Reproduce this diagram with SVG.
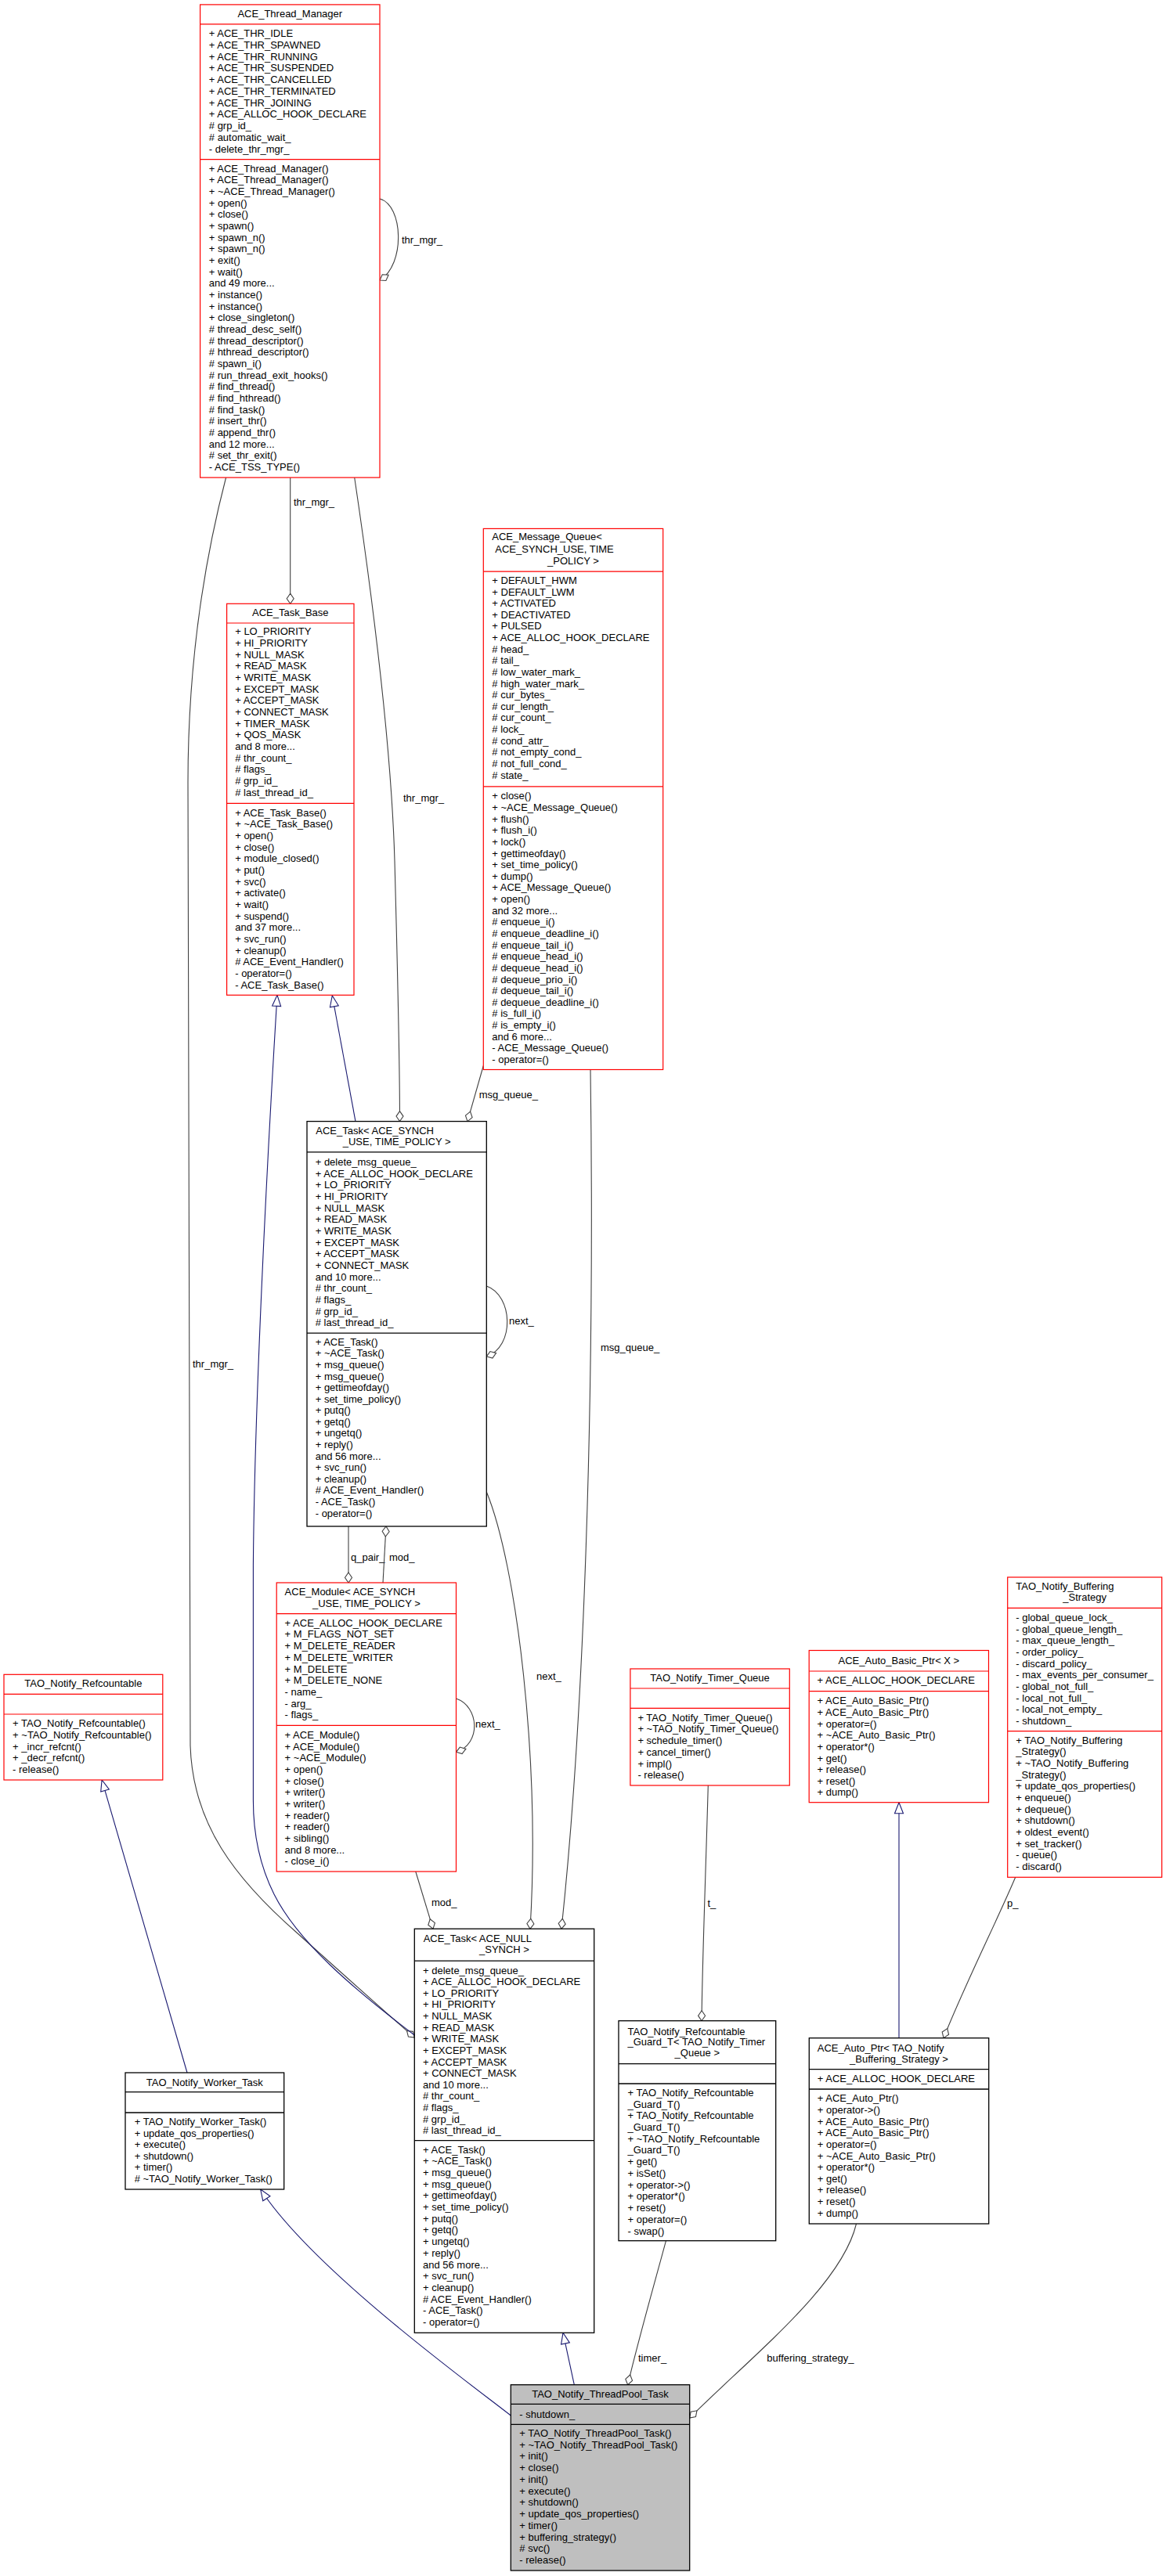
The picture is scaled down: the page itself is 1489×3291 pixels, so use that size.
<svg xmlns="http://www.w3.org/2000/svg" width="1489" height="3291" viewBox="0 0 1489 3291">
<style>
.br{fill:#fff;stroke:#ff0000;stroke-width:1.2}
.lr{stroke:#ff0000;stroke-width:1.2}
.bk{fill:#fff;stroke:#000;stroke-width:1.3}
.lk{stroke:#000;stroke-width:1.3}
.sel{fill:#bfbfbf;stroke:#000;stroke-width:1.3}
.t{font-family:"Liberation Sans",Arial,Helvetica,sans-serif;font-size:13px;fill:#000}
.c{text-anchor:middle}
.e{fill:none;stroke:#404040;stroke-width:1.1}
.i{fill:none;stroke:#191970;stroke-width:1.1}
</style>
<defs>
<marker id="dia" viewBox="-1 -6 15 12" markerWidth="15" markerHeight="12" refX="13" refY="0" orient="auto" markerUnits="userSpaceOnUse">
<path d="M0,0 L6.5,-4.5 L13,0 L6.5,4.5 Z" fill="#fff" stroke="#404040" stroke-width="1.1"/>
</marker>
<marker id="tri" viewBox="-1 -7 16 14" markerWidth="16" markerHeight="14" refX="14" refY="0" orient="auto" markerUnits="userSpaceOnUse">
<path d="M0,-5.5 L14,0 L0,5.5 Z" fill="#fff" stroke="#191970" stroke-width="1.1"/>
</marker>
</defs>

<g id="connectors">
<path class="e" d="M485,254 C515,262 518,338 485,358" marker-end="url(#dia)"/>
<text class="t" x="513" y="311">thr_mgr_</text>
<path class="e" d="M370.7,610 L370.7,771.3" marker-end="url(#dia)"/>
<text class="t" x="375" y="645.7">thr_mgr_</text>
<path class="e" d="M452.7,610 C478,780 500,960 504,1100 C508,1250 510.5,1350 510.5,1432.6" marker-end="url(#dia)"/>
<text class="t" x="515" y="1024.3">thr_mgr_</text>
<path class="e" d="M288.6,610 C260,720 240,850 240,1000 L243,2230 C246,2330 300,2400 380,2470 C430,2515 480,2560 529.3,2603" marker-end="url(#dia)"/>
<text class="t" x="246" y="1747">thr_mgr_</text>
<path class="i" d="M454,1432.6 L424.3,1272" marker-end="url(#tri)"/>
<path class="i" d="M529.3,2600 C450,2540 380,2480 350,2420 C330,2380 323.4,2340 323.4,2300 L323.4,2000 C325,1800 340,1500 354,1271.3" marker-end="url(#tri)"/>
<path class="e" d="M617.3,1361.5 L597,1432.6" marker-end="url(#dia)"/>
<text class="t" x="611.7" y="1403.3">msg_queue_</text>
<path class="e" d="M754,1366.5 C760,1800 745,2200 717,2464.2" marker-end="url(#dia)"/>
<text class="t" x="767" y="1726">msg_queue_</text>
<path class="e" d="M621.3,1643 C655,1655 658,1720 621.3,1733" marker-end="url(#dia)"/>
<text class="t" x="650" y="1692">next_</text>
<path class="e" d="M445,1950 L445,2022" marker-end="url(#dia)"/>
<text class="t" x="448" y="1994">q_pair_</text>
<path class="e" d="M489,2022 L493,1950" marker-end="url(#dia)"/>
<text class="t" x="497" y="1994">mod_</text>
<path class="e" d="M621.3,1906 C660,2000 690,2250 677,2464.2" marker-end="url(#dia)"/>
<text class="t" x="685" y="2146">next_</text>
<path class="e" d="M582.5,2170 C612,2180 615,2228 582.5,2238.3" marker-end="url(#dia)"/>
<text class="t" x="607" y="2207">next_</text>
<path class="e" d="M530.8,2391 L553,2464.2" marker-end="url(#dia)"/>
<text class="t" x="551" y="2435">mod_</text>
<path class="e" d="M904.3,2281 C901,2400 897,2500 896,2581.7" marker-end="url(#dia)"/>
<text class="t" x="903.4" y="2435.5">t_</text>
<path class="i" d="M1148,2603.7 L1148,2302.7" marker-end="url(#tri)"/>
<path class="e" d="M1296.7,2398.3 C1275,2450 1230,2540 1205,2603.7" marker-end="url(#dia)"/>
<text class="t" x="1286" y="2436">p_</text>
<path class="i" d="M239,2648 L130.1,2274" marker-end="url(#tri)"/>
<path class="i" d="M652.3,3086 C600,3045 400,2900 332.7,2797" marker-end="url(#tri)"/>
<path class="i" d="M733.3,3046.7 L719,2980.3" marker-end="url(#tri)"/>
<path class="e" d="M850.5,2862.7 C835,2920 815,2990 801.7,3046.7" marker-end="url(#dia)"/>
<text class="t" x="815" y="3017">timer_</text>
<path class="e" d="M1093.5,2841 C1075,2920 960,3010 880.7,3089" marker-end="url(#dia)"/>
<text class="t" x="979.3" y="3017">buffering_strategy_</text>
</g>

<g id="n-ace-thread-manager">
<rect class="br" x="255.6" y="5.9" width="229.4" height="604.2"/>
<line class="lr" x1="255.6" y1="30.8" x2="485" y2="30.8"/>
<line class="lr" x1="255.6" y1="203.6" x2="485" y2="203.6"/>
<text class="t c" x="370.3" y="22.3">ACE_Thread_Manager</text>
<text class="t" y="47"><tspan x="266.8">+ ACE_THR_IDLE</tspan><tspan x="266.8" dy="14.75">+ ACE_THR_SPAWNED</tspan><tspan x="266.8" dy="14.75">+ ACE_THR_RUNNING</tspan><tspan x="266.8" dy="14.75">+ ACE_THR_SUSPENDED</tspan><tspan x="266.8" dy="14.75">+ ACE_THR_CANCELLED</tspan><tspan x="266.8" dy="14.75">+ ACE_THR_TERMINATED</tspan><tspan x="266.8" dy="14.75">+ ACE_THR_JOINING</tspan><tspan x="266.8" dy="14.75">+ ACE_ALLOC_HOOK_DECLARE</tspan><tspan x="266.8" dy="14.75"># grp_id_</tspan><tspan x="266.8" dy="14.75"># automatic_wait_</tspan><tspan x="266.8" dy="14.75">- delete_thr_mgr_</tspan></text>
<text class="t" y="219.5"><tspan x="266.8">+ ACE_Thread_Manager()</tspan><tspan x="266.8" dy="14.67">+ ACE_Thread_Manager()</tspan><tspan x="266.8" dy="14.67">+ ~ACE_Thread_Manager()</tspan><tspan x="266.8" dy="14.67">+ open()</tspan><tspan x="266.8" dy="14.67">+ close()</tspan><tspan x="266.8" dy="14.67">+ spawn()</tspan><tspan x="266.8" dy="14.67">+ spawn_n()</tspan><tspan x="266.8" dy="14.67">+ spawn_n()</tspan><tspan x="266.8" dy="14.67">+ exit()</tspan><tspan x="266.8" dy="14.67">+ wait()</tspan><tspan x="266.8" dy="14.67">and 49 more...</tspan><tspan x="266.8" dy="14.67">+ instance()</tspan><tspan x="266.8" dy="14.67">+ instance()</tspan><tspan x="266.8" dy="14.67">+ close_singleton()</tspan><tspan x="266.8" dy="14.67"># thread_desc_self()</tspan><tspan x="266.8" dy="14.67"># thread_descriptor()</tspan><tspan x="266.8" dy="14.67"># hthread_descriptor()</tspan><tspan x="266.8" dy="14.67"># spawn_i()</tspan><tspan x="266.8" dy="14.67"># run_thread_exit_hooks()</tspan><tspan x="266.8" dy="14.67"># find_thread()</tspan><tspan x="266.8" dy="14.67"># find_hthread()</tspan><tspan x="266.8" dy="14.67"># find_task()</tspan><tspan x="266.8" dy="14.67"># insert_thr()</tspan><tspan x="266.8" dy="14.67"># append_thr()</tspan><tspan x="266.8" dy="14.67">and 12 more...</tspan><tspan x="266.8" dy="14.67"># set_thr_exit()</tspan><tspan x="266.8" dy="14.67">- ACE_TSS_TYPE()</tspan></text>
</g>

<g id="n-ace-task-base">
<rect class="br" x="289.6" y="771.3" width="162.4" height="500"/>
<line class="lr" x1="289.6" y1="796" x2="452" y2="796"/>
<line class="lr" x1="289.6" y1="1026.3" x2="452" y2="1026.3"/>
<text class="t c" x="370.8" y="786.6">ACE_Task_Base</text>
<text class="t" y="811.4"><tspan x="300.2">+ LO_PRIORITY</tspan><tspan x="300.2" dy="14.65">+ HI_PRIORITY</tspan><tspan x="300.2" dy="14.65">+ NULL_MASK</tspan><tspan x="300.2" dy="14.65">+ READ_MASK</tspan><tspan x="300.2" dy="14.65">+ WRITE_MASK</tspan><tspan x="300.2" dy="14.65">+ EXCEPT_MASK</tspan><tspan x="300.2" dy="14.65">+ ACCEPT_MASK</tspan><tspan x="300.2" dy="14.65">+ CONNECT_MASK</tspan><tspan x="300.2" dy="14.65">+ TIMER_MASK</tspan><tspan x="300.2" dy="14.65">+ QOS_MASK</tspan><tspan x="300.2" dy="14.65">and 8 more...</tspan><tspan x="300.2" dy="14.65"># thr_count_</tspan><tspan x="300.2" dy="14.65"># flags_</tspan><tspan x="300.2" dy="14.65"># grp_id_</tspan><tspan x="300.2" dy="14.65"># last_thread_id_</tspan></text>
<text class="t" y="1042.5"><tspan x="300.2">+ ACE_Task_Base()</tspan><tspan x="300.2" dy="14.69">+ ~ACE_Task_Base()</tspan><tspan x="300.2" dy="14.69">+ open()</tspan><tspan x="300.2" dy="14.69">+ close()</tspan><tspan x="300.2" dy="14.69">+ module_closed()</tspan><tspan x="300.2" dy="14.69">+ put()</tspan><tspan x="300.2" dy="14.69">+ svc()</tspan><tspan x="300.2" dy="14.69">+ activate()</tspan><tspan x="300.2" dy="14.69">+ wait()</tspan><tspan x="300.2" dy="14.69">+ suspend()</tspan><tspan x="300.2" dy="14.69">and 37 more...</tspan><tspan x="300.2" dy="14.69">+ svc_run()</tspan><tspan x="300.2" dy="14.69">+ cleanup()</tspan><tspan x="300.2" dy="14.69"># ACE_Event_Handler()</tspan><tspan x="300.2" dy="14.69">- operator=()</tspan><tspan x="300.2" dy="14.69">- ACE_Task_Base()</tspan></text>
</g>

<g id="n-ace-message-queue">
<rect class="br" x="617.3" y="675.4" width="229.4" height="691.1"/>
<line class="lr" x1="617.3" y1="730.1" x2="846.7" y2="730.1"/>
<line class="lr" x1="617.3" y1="1004.8" x2="846.7" y2="1004.8"/>
<text class="t" x="628.3" y="690.4">ACE_Message_Queue&lt;</text>
<text class="t" x="632.3" y="705.8">ACE_SYNCH_USE, TIME</text>
<text class="t c" x="732" y="720.7">_POLICY &gt;</text>
<text class="t" y="746"><tspan x="628.3">+ DEFAULT_HWM</tspan><tspan x="628.3" dy="14.62">+ DEFAULT_LWM</tspan><tspan x="628.3" dy="14.62">+ ACTIVATED</tspan><tspan x="628.3" dy="14.62">+ DEACTIVATED</tspan><tspan x="628.3" dy="14.62">+ PULSED</tspan><tspan x="628.3" dy="14.62">+ ACE_ALLOC_HOOK_DECLARE</tspan><tspan x="628.3" dy="14.62"># head_</tspan><tspan x="628.3" dy="14.62"># tail_</tspan><tspan x="628.3" dy="14.62"># low_water_mark_</tspan><tspan x="628.3" dy="14.62"># high_water_mark_</tspan><tspan x="628.3" dy="14.62"># cur_bytes_</tspan><tspan x="628.3" dy="14.62"># cur_length_</tspan><tspan x="628.3" dy="14.62"># cur_count_</tspan><tspan x="628.3" dy="14.62"># lock_</tspan><tspan x="628.3" dy="14.62"># cond_attr_</tspan><tspan x="628.3" dy="14.62"># not_empty_cond_</tspan><tspan x="628.3" dy="14.62"># not_full_cond_</tspan><tspan x="628.3" dy="14.62"># state_</tspan></text>
<text class="t" y="1021.3"><tspan x="628.3">+ close()</tspan><tspan x="628.3" dy="14.64">+ ~ACE_Message_Queue()</tspan><tspan x="628.3" dy="14.64">+ flush()</tspan><tspan x="628.3" dy="14.64">+ flush_i()</tspan><tspan x="628.3" dy="14.64">+ lock()</tspan><tspan x="628.3" dy="14.64">+ gettimeofday()</tspan><tspan x="628.3" dy="14.64">+ set_time_policy()</tspan><tspan x="628.3" dy="14.64">+ dump()</tspan><tspan x="628.3" dy="14.64">+ ACE_Message_Queue()</tspan><tspan x="628.3" dy="14.64">+ open()</tspan><tspan x="628.3" dy="14.64">and 32 more...</tspan><tspan x="628.3" dy="14.64"># enqueue_i()</tspan><tspan x="628.3" dy="14.64"># enqueue_deadline_i()</tspan><tspan x="628.3" dy="14.64"># enqueue_tail_i()</tspan><tspan x="628.3" dy="14.64"># enqueue_head_i()</tspan><tspan x="628.3" dy="14.64"># dequeue_head_i()</tspan><tspan x="628.3" dy="14.64"># dequeue_prio_i()</tspan><tspan x="628.3" dy="14.64"># dequeue_tail_i()</tspan><tspan x="628.3" dy="14.64"># dequeue_deadline_i()</tspan><tspan x="628.3" dy="14.64"># is_full_i()</tspan><tspan x="628.3" dy="14.64"># is_empty_i()</tspan><tspan x="628.3" dy="14.64">and 6 more...</tspan><tspan x="628.3" dy="14.64">- ACE_Message_Queue()</tspan><tspan x="628.3" dy="14.64">- operator=()</tspan></text>
</g>

<g id="n-ace-task-synch">
<rect class="bk" x="392" y="1432.6" width="229.3" height="517.4"/>
<line class="lk" x1="392" y1="1471.9" x2="621.3" y2="1471.9"/>
<line class="lk" x1="392" y1="1703.1" x2="621.3" y2="1703.1"/>
<text class="t" x="403.3" y="1448.7">ACE_Task&lt; ACE_SYNCH</text>
<text class="t c" x="506.7" y="1462.5">_USE, TIME_POLICY &gt;</text>
<text class="t" y="1489"><tspan x="402.7">+ delete_msg_queue_</tspan><tspan x="402.7" dy="14.66">+ ACE_ALLOC_HOOK_DECLARE</tspan><tspan x="402.7" dy="14.66">+ LO_PRIORITY</tspan><tspan x="402.7" dy="14.66">+ HI_PRIORITY</tspan><tspan x="402.7" dy="14.66">+ NULL_MASK</tspan><tspan x="402.7" dy="14.66">+ READ_MASK</tspan><tspan x="402.7" dy="14.66">+ WRITE_MASK</tspan><tspan x="402.7" dy="14.66">+ EXCEPT_MASK</tspan><tspan x="402.7" dy="14.66">+ ACCEPT_MASK</tspan><tspan x="402.7" dy="14.66">+ CONNECT_MASK</tspan><tspan x="402.7" dy="14.66">and 10 more...</tspan><tspan x="402.7" dy="14.66"># thr_count_</tspan><tspan x="402.7" dy="14.66"># flags_</tspan><tspan x="402.7" dy="14.66"># grp_id_</tspan><tspan x="402.7" dy="14.66"># last_thread_id_</tspan></text>
<text class="t" y="1718.8"><tspan x="402.7">+ ACE_Task()</tspan><tspan x="402.7" dy="14.58">+ ~ACE_Task()</tspan><tspan x="402.7" dy="14.58">+ msg_queue()</tspan><tspan x="402.7" dy="14.58">+ msg_queue()</tspan><tspan x="402.7" dy="14.58">+ gettimeofday()</tspan><tspan x="402.7" dy="14.58">+ set_time_policy()</tspan><tspan x="402.7" dy="14.58">+ putq()</tspan><tspan x="402.7" dy="14.58">+ getq()</tspan><tspan x="402.7" dy="14.58">+ ungetq()</tspan><tspan x="402.7" dy="14.58">+ reply()</tspan><tspan x="402.7" dy="14.58">and 56 more...</tspan><tspan x="402.7" dy="14.58">+ svc_run()</tspan><tspan x="402.7" dy="14.58">+ cleanup()</tspan><tspan x="402.7" dy="14.58"># ACE_Event_Handler()</tspan><tspan x="402.7" dy="14.58">- ACE_Task()</tspan><tspan x="402.7" dy="14.58">- operator=()</tspan></text>
</g>

<g id="n-ace-module">
<rect class="br" x="353.2" y="2022" width="229.3" height="369"/>
<line class="lr" x1="353.2" y1="2061.7" x2="582.5" y2="2061.7"/>
<line class="lr" x1="353.2" y1="2204.3" x2="582.5" y2="2204.3"/>
<text class="t" x="363.6" y="2037.8">ACE_Module&lt; ACE_SYNCH</text>
<text class="t c" x="467.9" y="2052.8">_USE, TIME_POLICY &gt;</text>
<text class="t" y="2077.8"><tspan x="363.6">+ ACE_ALLOC_HOOK_DECLARE</tspan><tspan x="363.6" dy="14.68">+ M_FLAGS_NOT_SET</tspan><tspan x="363.6" dy="14.68">+ M_DELETE_READER</tspan><tspan x="363.6" dy="14.68">+ M_DELETE_WRITER</tspan><tspan x="363.6" dy="14.68">+ M_DELETE</tspan><tspan x="363.6" dy="14.68">+ M_DELETE_NONE</tspan><tspan x="363.6" dy="14.68">- name_</tspan><tspan x="363.6" dy="14.68">- arg_</tspan><tspan x="363.6" dy="14.68">- flags_</tspan></text>
<text class="t" y="2221.2"><tspan x="363.6">+ ACE_Module()</tspan><tspan x="363.6" dy="14.64">+ ACE_Module()</tspan><tspan x="363.6" dy="14.64">+ ~ACE_Module()</tspan><tspan x="363.6" dy="14.64">+ open()</tspan><tspan x="363.6" dy="14.64">+ close()</tspan><tspan x="363.6" dy="14.64">+ writer()</tspan><tspan x="363.6" dy="14.64">+ writer()</tspan><tspan x="363.6" dy="14.64">+ reader()</tspan><tspan x="363.6" dy="14.64">+ reader()</tspan><tspan x="363.6" dy="14.64">+ sibling()</tspan><tspan x="363.6" dy="14.64">and 8 more...</tspan><tspan x="363.6" dy="14.64">- close_i()</tspan></text>
</g>

<g id="n-tao-notify-refcountable">
<rect class="br" x="5" y="2139.3" width="202.8" height="134.7"/>
<line class="lr" x1="5" y1="2164.3" x2="207.8" y2="2164.3"/>
<line class="lr" x1="5" y1="2190" x2="207.8" y2="2190"/>
<text class="t c" x="106.4" y="2155.2">TAO_Notify_Refcountable</text>
<text class="t" y="2205.8"><tspan x="16.1">+ TAO_Notify_Refcountable()</tspan><tspan x="16.1" dy="14.85">+ ~TAO_Notify_Refcountable()</tspan><tspan x="16.1" dy="14.85">+ _incr_refcnt()</tspan><tspan x="16.1" dy="14.85">+ _decr_refcnt()</tspan><tspan x="16.1" dy="14.85">- release()</tspan></text>
</g>

<g id="n-tao-notify-timer-queue">
<rect class="br" x="804.9" y="2132" width="203.4" height="149"/>
<line class="lr" x1="804.9" y1="2157" x2="1008.3" y2="2157"/>
<line class="lr" x1="804.9" y1="2182.3" x2="1008.3" y2="2182.3"/>
<text class="t c" x="906.6" y="2148.2">TAO_Notify_Timer_Queue</text>
<text class="t" y="2198.8"><tspan x="814.4">+ TAO_Notify_Timer_Queue()</tspan><tspan x="814.4" dy="14.68">+ ~TAO_Notify_Timer_Queue()</tspan><tspan x="814.4" dy="14.68">+ schedule_timer()</tspan><tspan x="814.4" dy="14.68">+ cancel_timer()</tspan><tspan x="814.4" dy="14.68">+ impl()</tspan><tspan x="814.4" dy="14.68">- release()</tspan></text>
</g>

<g id="n-ace-auto-basic-ptr">
<rect class="br" x="1033.2" y="2108.5" width="229.3" height="194.2"/>
<line class="lr" x1="1033.2" y1="2135" x2="1262.5" y2="2135"/>
<line class="lr" x1="1033.2" y1="2160.7" x2="1262.5" y2="2160.7"/>
<text class="t c" x="1147.9" y="2126.2">ACE_Auto_Basic_Ptr&lt; X &gt;</text>
<text class="t" x="1043.6" y="2150.5">+ ACE_ALLOC_HOOK_DECLARE</text>
<text class="t" y="2177.2"><tspan x="1043.6">+ ACE_Auto_Basic_Ptr()</tspan><tspan x="1043.6" dy="14.66">+ ACE_Auto_Basic_Ptr()</tspan><tspan x="1043.6" dy="14.66">+ operator=()</tspan><tspan x="1043.6" dy="14.66">+ ~ACE_Auto_Basic_Ptr()</tspan><tspan x="1043.6" dy="14.66">+ operator*()</tspan><tspan x="1043.6" dy="14.66">+ get()</tspan><tspan x="1043.6" dy="14.66">+ release()</tspan><tspan x="1043.6" dy="14.66">+ reset()</tspan><tspan x="1043.6" dy="14.66">+ dump()</tspan></text>
</g>

<g id="n-tao-notify-buffering-strategy">
<rect class="br" x="1286.7" y="2015" width="197" height="383.3"/>
<line class="lr" x1="1286.7" y1="2054.3" x2="1483.7" y2="2054.3"/>
<line class="lr" x1="1286.7" y1="2211.7" x2="1483.7" y2="2211.7"/>
<text class="t" x="1297.3" y="2031.2">TAO_Notify_Buffering</text>
<text class="t c" x="1385.2" y="2045.2">_Strategy</text>
<text class="t" y="2071.2"><tspan x="1297.3">- global_queue_lock_</tspan><tspan x="1297.3" dy="14.62">- global_queue_length_</tspan><tspan x="1297.3" dy="14.62">- max_queue_length_</tspan><tspan x="1297.3" dy="14.62">- order_policy_</tspan><tspan x="1297.3" dy="14.62">- discard_policy_</tspan><tspan x="1297.3" dy="14.62">- max_events_per_consumer_</tspan><tspan x="1297.3" dy="14.62">- global_not_full_</tspan><tspan x="1297.3" dy="14.62">- local_not_full_</tspan><tspan x="1297.3" dy="14.62">- local_not_empty_</tspan><tspan x="1297.3" dy="14.62">- shutdown_</tspan></text>
<text class="t" y="2227.8"><tspan x="1297.3">+ TAO_Notify_Buffering</tspan><tspan x="1297.3" dy="14.64">_Strategy()</tspan><tspan x="1297.3" dy="14.64">+ ~TAO_Notify_Buffering</tspan><tspan x="1297.3" dy="14.64">_Strategy()</tspan><tspan x="1297.3" dy="14.64">+ update_qos_properties()</tspan><tspan x="1297.3" dy="14.64">+ enqueue()</tspan><tspan x="1297.3" dy="14.64">+ dequeue()</tspan><tspan x="1297.3" dy="14.64">+ shutdown()</tspan><tspan x="1297.3" dy="14.64">+ oldest_event()</tspan><tspan x="1297.3" dy="14.64">+ set_tracker()</tspan><tspan x="1297.3" dy="14.64">- queue()</tspan><tspan x="1297.3" dy="14.64">- discard()</tspan></text>
</g>

<g id="n-ace-task-null-synch">
<rect class="bk" x="529.3" y="2464.2" width="229.4" height="516.1"/>
<line class="lk" x1="529.3" y1="2505.1" x2="758.7" y2="2505.1"/>
<line class="lk" x1="529.3" y1="2734.7" x2="758.7" y2="2734.7"/>
<text class="t" x="540.7" y="2481">ACE_Task&lt; ACE_NULL</text>
<text class="t c" x="644" y="2495">_SYNCH &gt;</text>
<text class="t" y="2521.5"><tspan x="540">+ delete_msg_queue_</tspan><tspan x="540" dy="14.63">+ ACE_ALLOC_HOOK_DECLARE</tspan><tspan x="540" dy="14.63">+ LO_PRIORITY</tspan><tspan x="540" dy="14.63">+ HI_PRIORITY</tspan><tspan x="540" dy="14.63">+ NULL_MASK</tspan><tspan x="540" dy="14.63">+ READ_MASK</tspan><tspan x="540" dy="14.63">+ WRITE_MASK</tspan><tspan x="540" dy="14.63">+ EXCEPT_MASK</tspan><tspan x="540" dy="14.63">+ ACCEPT_MASK</tspan><tspan x="540" dy="14.63">+ CONNECT_MASK</tspan><tspan x="540" dy="14.63">and 10 more...</tspan><tspan x="540" dy="14.63"># thr_count_</tspan><tspan x="540" dy="14.63"># flags_</tspan><tspan x="540" dy="14.63"># grp_id_</tspan><tspan x="540" dy="14.63"># last_thread_id_</tspan></text>
<text class="t" y="2750.6"><tspan x="540">+ ACE_Task()</tspan><tspan x="540" dy="14.69">+ ~ACE_Task()</tspan><tspan x="540" dy="14.69">+ msg_queue()</tspan><tspan x="540" dy="14.69">+ msg_queue()</tspan><tspan x="540" dy="14.69">+ gettimeofday()</tspan><tspan x="540" dy="14.69">+ set_time_policy()</tspan><tspan x="540" dy="14.69">+ putq()</tspan><tspan x="540" dy="14.69">+ getq()</tspan><tspan x="540" dy="14.69">+ ungetq()</tspan><tspan x="540" dy="14.69">+ reply()</tspan><tspan x="540" dy="14.69">and 56 more...</tspan><tspan x="540" dy="14.69">+ svc_run()</tspan><tspan x="540" dy="14.69">+ cleanup()</tspan><tspan x="540" dy="14.69"># ACE_Event_Handler()</tspan><tspan x="540" dy="14.69">- ACE_Task()</tspan><tspan x="540" dy="14.69">- operator=()</tspan></text>
</g>

<g id="n-tao-notify-worker-task">
<rect class="bk" x="160" y="2648" width="202.7" height="149"/>
<line class="lk" x1="160" y1="2672.7" x2="362.7" y2="2672.7"/>
<line class="lk" x1="160" y1="2699" x2="362.7" y2="2699"/>
<text class="t c" x="261.3" y="2664.5">TAO_Notify_Worker_Task</text>
<text class="t" y="2715.2"><tspan x="171.7">+ TAO_Notify_Worker_Task()</tspan><tspan x="171.7" dy="14.52">+ update_qos_properties()</tspan><tspan x="171.7" dy="14.52">+ execute()</tspan><tspan x="171.7" dy="14.52">+ shutdown()</tspan><tspan x="171.7" dy="14.52">+ timer()</tspan><tspan x="171.7" dy="14.52"># ~TAO_Notify_Worker_Task()</tspan></text>
</g>

<g id="n-tao-notify-refcountable-guard">
<rect class="bk" x="790" y="2581.7" width="200.7" height="281"/>
<line class="lk" x1="790" y1="2636.7" x2="990.7" y2="2636.7"/>
<line class="lk" x1="790" y1="2662" x2="990.7" y2="2662"/>
<text class="t" x="801.5" y="2599.8">TAO_Notify_Refcountable</text>
<text class="t" x="801.5" y="2612.8">_Guard_T&lt; TAO_Notify_Timer</text>
<text class="t c" x="890.3" y="2627.2">_Queue &gt;</text>
<text class="t" y="2677.8"><tspan x="801.5">+ TAO_Notify_Refcountable</tspan><tspan x="801.5" dy="14.73">_Guard_T()</tspan><tspan x="801.5" dy="14.73">+ TAO_Notify_Refcountable</tspan><tspan x="801.5" dy="14.73">_Guard_T()</tspan><tspan x="801.5" dy="14.73">+ ~TAO_Notify_Refcountable</tspan><tspan x="801.5" dy="14.73">_Guard_T()</tspan><tspan x="801.5" dy="14.73">+ get()</tspan><tspan x="801.5" dy="14.73">+ isSet()</tspan><tspan x="801.5" dy="14.73">+ operator-&gt;()</tspan><tspan x="801.5" dy="14.73">+ operator*()</tspan><tspan x="801.5" dy="14.73">+ reset()</tspan><tspan x="801.5" dy="14.73">+ operator=()</tspan><tspan x="801.5" dy="14.73">- swap()</tspan></text>
</g>

<g id="n-ace-auto-ptr">
<rect class="bk" x="1033.3" y="2603.7" width="229.4" height="237.3"/>
<line class="lk" x1="1033.3" y1="2643.7" x2="1262.7" y2="2643.7"/>
<line class="lk" x1="1033.3" y1="2669" x2="1262.7" y2="2669"/>
<text class="t" x="1043.8" y="2620.5">ACE_Auto_Ptr&lt; TAO_Notify</text>
<text class="t c" x="1148" y="2635.2">_Buffering_Strategy &gt;</text>
<text class="t" x="1043.8" y="2660.2">+ ACE_ALLOC_HOOK_DECLARE</text>
<text class="t" y="2685.2"><tspan x="1043.8">+ ACE_Auto_Ptr()</tspan><tspan x="1043.8" dy="14.66">+ operator-&gt;()</tspan><tspan x="1043.8" dy="14.66">+ ACE_Auto_Basic_Ptr()</tspan><tspan x="1043.8" dy="14.66">+ ACE_Auto_Basic_Ptr()</tspan><tspan x="1043.8" dy="14.66">+ operator=()</tspan><tspan x="1043.8" dy="14.66">+ ~ACE_Auto_Basic_Ptr()</tspan><tspan x="1043.8" dy="14.66">+ operator*()</tspan><tspan x="1043.8" dy="14.66">+ get()</tspan><tspan x="1043.8" dy="14.66">+ release()</tspan><tspan x="1043.8" dy="14.66">+ reset()</tspan><tspan x="1043.8" dy="14.66">+ dump()</tspan></text>
</g>

<g id="n-tao-notify-threadpool-task">
<rect class="sel" x="652.3" y="3046.7" width="228.4" height="237.3"/>
<line class="lk" x1="652.3" y1="3071.3" x2="880.7" y2="3071.3"/>
<line class="lk" x1="652.3" y1="3097.3" x2="880.7" y2="3097.3"/>
<text class="t c" x="766.5" y="3062.8">TAO_Notify_ThreadPool_Task</text>
<text class="t" x="663.3" y="3088.5">- shutdown_</text>
<text class="t" y="3112.8"><tspan x="663.3">+ TAO_Notify_ThreadPool_Task()</tspan><tspan x="663.3" dy="14.76">+ ~TAO_Notify_ThreadPool_Task()</tspan><tspan x="663.3" dy="14.76">+ init()</tspan><tspan x="663.3" dy="14.76">+ close()</tspan><tspan x="663.3" dy="14.76">+ init()</tspan><tspan x="663.3" dy="14.76">+ execute()</tspan><tspan x="663.3" dy="14.76">+ shutdown()</tspan><tspan x="663.3" dy="14.76">+ update_qos_properties()</tspan><tspan x="663.3" dy="14.76">+ timer()</tspan><tspan x="663.3" dy="14.76">+ buffering_strategy()</tspan><tspan x="663.3" dy="14.76"># svc()</tspan><tspan x="663.3" dy="14.76">- release()</tspan></text>
</g>
</svg>
